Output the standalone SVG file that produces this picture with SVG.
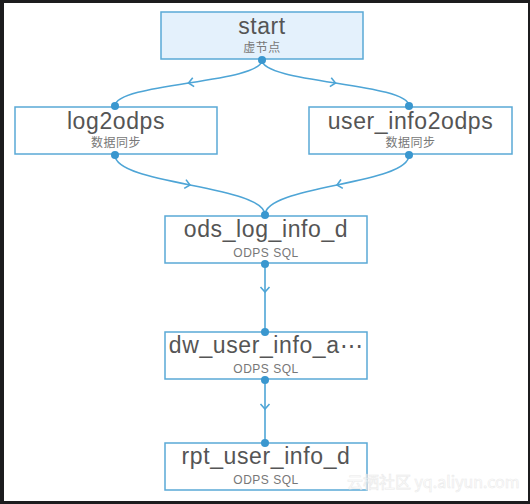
<svg xmlns="http://www.w3.org/2000/svg" width="530" height="504" viewBox="0 0 530 504">
<style>
.box{fill:#ffffff;stroke:#5aa9d6;stroke-width:1.5}
.box.virt{fill:#e4f1fc}
.t{font-family:"Liberation Sans",Arial,sans-serif;font-size:23px;fill:#555;text-anchor:middle;letter-spacing:0.6px}
.s{font-family:"Liberation Sans","Noto Sans CJK SC",sans-serif;font-size:12px;fill:#777;text-anchor:middle;letter-spacing:0.5px}
.c{fill:none;stroke:#4ea5d6;stroke-width:1.6}
.dot{fill:#3a97cf}
.wm{font-family:"Noto Sans CJK SC","Liberation Sans",sans-serif;font-size:16px;fill:#ffffff;stroke:#e6e6e6;stroke-width:0.6;opacity:0.8}
</style>
<defs>
<marker id="chev" viewBox="-7 -7 14 14" markerWidth="14" markerHeight="14" markerUnits="userSpaceOnUse" orient="auto" refX="0" refY="0">
<path d="M-5,-4.5 L0,0 L-5,4.5" fill="none" stroke="#4ea5d6" stroke-width="1.6"/>
</marker>
</defs>
<rect x="0" y="0" width="530" height="504" fill="#1c1c1e"/>
<rect x="4" y="3" width="524" height="498" fill="#ffffff"/>
<g id="connectors">
<path class="c" marker-mid="url(#chev)" d="M262,60 C262,71.5 225.25,77.25 188.5,83 C151.75,88.75 115,94.5 115,106"/>
<path class="c" marker-mid="url(#chev)" d="M262,60 C262,71.5 298.75,77.25 335.5,83 C372.25,88.75 409,94.5 409,106"/>
<path class="c" marker-mid="url(#chev)" d="M115,155 C115,170 152.5,177.5 190,185 C227.5,192.5 265,200 265,215"/>
<path class="c" marker-mid="url(#chev)" d="M409,155 C409,170 373,177.5 337,185 C301,192.5 265,200 265,215"/>
<path class="c" marker-mid="url(#chev)" d="M265,264 L265,292 L265,332"/>
<path class="c" marker-mid="url(#chev)" d="M265,380 L265,409 L265,443"/>
</g>
<g id="start">
<rect class="box virt" x="161" y="12" width="202" height="47"/>
<text class="t" x="262" y="34">start</text>
<text class="s" x="262" y="52">虚节点</text>
</g>
<g id="log2odps">
<rect class="box" x="15" y="107" width="202" height="47"/>
<text class="t" x="116" y="129">log2odps</text>
<text class="s" x="116" y="147">数据同步</text>
</g>
<g id="user_info2odps">
<rect class="box" x="309" y="107" width="203" height="47"/>
<text class="t" x="410.5" y="129">user_info2odps</text>
<text class="s" x="410.5" y="147">数据同步</text>
</g>
<g id="ods_log_info_d">
<rect class="box" x="165" y="216" width="202" height="47"/>
<text class="t" x="266" y="237">ods_log_info_d</text>
<text class="s" x="266" y="257">ODPS SQL</text>
</g>
<g id="dw_user_info_all_d">
<rect class="box" x="165" y="332" width="202" height="47"/>
<text class="t" x="266" y="353">dw_user_info_a⋯</text>
<text class="s" x="266" y="373">ODPS SQL</text>
</g>
<g id="rpt_user_info_d">
<rect class="box" x="165" y="443" width="202" height="47"/>
<text class="t" x="266" y="464">rpt_user_info_d</text>
<text class="s" x="266" y="484">ODPS SQL</text>
</g>
<g id="ports">
<circle class="dot" cx="262" cy="60" r="4"/>
<circle class="dot" cx="115" cy="106" r="4"/>
<circle class="dot" cx="115" cy="155" r="4"/>
<circle class="dot" cx="409" cy="106" r="4"/>
<circle class="dot" cx="409" cy="155" r="4"/>
<circle class="dot" cx="265" cy="215" r="4"/>
<circle class="dot" cx="265" cy="264" r="4"/>
<circle class="dot" cx="265" cy="332" r="4"/>
<circle class="dot" cx="265" cy="380" r="4"/>
<circle class="dot" cx="265" cy="443" r="4"/>
</g>
<text class="wm" x="347" y="488">云栖社区 yq.aliyun.com</text>
</svg>
